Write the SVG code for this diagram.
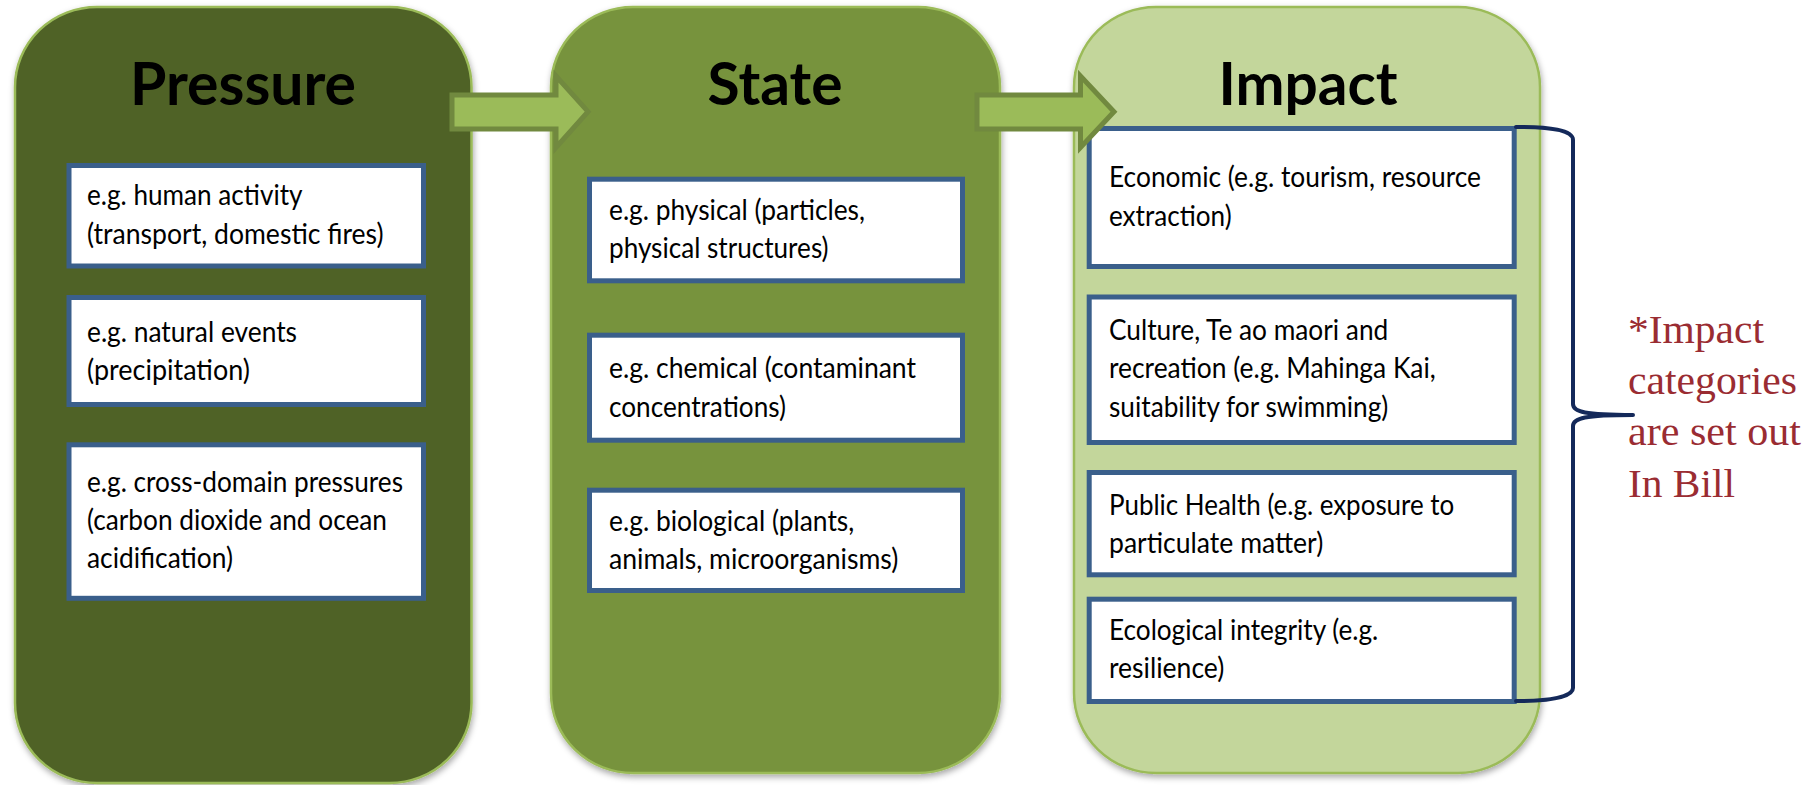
<svg xmlns="http://www.w3.org/2000/svg" width="1805" height="785" viewBox="0 0 1805 785">
<defs>
<filter id="sh" x="-5%" y="-5%" width="110%" height="110%">
<feDropShadow dx="1" dy="3" stdDeviation="3" flood-color="#000" flood-opacity="0.35"/>
</filter>
<style>
.panel{stroke:#9bbb59;stroke-width:2.5;filter:url(#sh)}
.p1{fill:#4f6228}
.p2{fill:#77933c}
.p3{fill:#c3d69b}
.box{fill:#fff;stroke:#3a5f8b;stroke-width:5}
.title{font-family:Lato,"Liberation Sans",sans-serif;font-weight:bold;font-size:60px;fill:#000;text-anchor:middle}
.t{font-family:Lato,"Liberation Sans",sans-serif;font-size:29.5px;fill:#000}
.arrow{fill:#9bbb59;stroke:#71893f;stroke-width:5;stroke-linejoin:miter}
.brace{fill:none;stroke:#14295a;stroke-width:4;stroke-linecap:round;stroke-linejoin:round}
.note{font-family:"Liberation Serif","Times New Roman",serif;font-size:41px;fill:#9a2c32}
</style>
</defs>
<rect width="1805" height="785" fill="#fff"/>

<g id="pressure">
<rect class="panel p1" x="15" y="7" width="456.5" height="776" rx="82" ry="80"/>
<text class="title" x="243" y="105" textLength="226" lengthAdjust="spacingAndGlyphs">Pressure</text>
<g id="pressure-1">
<rect class="box" x="69" y="165.5" width="354.5" height="100.5"/>
<text class="t" x="87" y="205" textLength="215.5" lengthAdjust="spacingAndGlyphs">e.g. human activity</text>
<text class="t" x="87" y="243.5" textLength="296.6" lengthAdjust="spacingAndGlyphs">(transport, domestic fires)</text>
</g>
<g id="pressure-2">
<rect class="box" x="69" y="297.5" width="354.5" height="107"/>
<text class="t" x="87" y="341.7" textLength="210" lengthAdjust="spacingAndGlyphs">e.g. natural events</text>
<text class="t" x="87" y="380" textLength="163" lengthAdjust="spacingAndGlyphs">(precipitation)</text>
</g>
<g id="pressure-3">
<rect class="box" x="69" y="444.8" width="354.5" height="153.5"/>
<text class="t" x="87" y="491.7" textLength="316" lengthAdjust="spacingAndGlyphs">e.g. cross-domain pressures</text>
<text class="t" x="87" y="530.3" textLength="300" lengthAdjust="spacingAndGlyphs">(carbon dioxide and ocean</text>
<text class="t" x="87" y="568.3" textLength="146" lengthAdjust="spacingAndGlyphs">acidification)</text>
</g>
</g>

<g id="state">
<rect class="panel p2" x="551" y="7" width="449" height="766" rx="82" ry="80"/>
<text class="title" x="775" y="105" textLength="135" lengthAdjust="spacingAndGlyphs">State</text>
<g id="state-1">
<rect class="box" x="589.5" y="179.2" width="373" height="101.6"/>
<text class="t" x="609" y="220" textLength="256" lengthAdjust="spacingAndGlyphs">e.g. physical (particles,</text>
<text class="t" x="609" y="258.3" textLength="219.6" lengthAdjust="spacingAndGlyphs">physical structures)</text>
</g>
<g id="state-2">
<rect class="box" x="589.5" y="335.2" width="373" height="105"/>
<text class="t" x="609" y="378" textLength="307" lengthAdjust="spacingAndGlyphs">e.g. chemical (contaminant</text>
<text class="t" x="609" y="416.7" textLength="177" lengthAdjust="spacingAndGlyphs">concentrations)</text>
</g>
<g id="state-3">
<rect class="box" x="589.5" y="490.2" width="373" height="100.3"/>
<text class="t" x="609" y="530.7" textLength="245.3" lengthAdjust="spacingAndGlyphs">e.g. biological (plants,</text>
<text class="t" x="609" y="569.3" textLength="289.3" lengthAdjust="spacingAndGlyphs">animals, microorganisms)</text>
</g>
</g>

<g id="impact">
<rect class="panel p3" x="1074" y="7" width="466" height="766" rx="82" ry="80"/>
<text class="title" x="1308" y="105" textLength="179" lengthAdjust="spacingAndGlyphs">Impact</text>
<g id="impact-1">
<rect class="box" x="1089.2" y="128.5" width="425" height="138"/>
<text class="t" x="1109" y="187" textLength="372" lengthAdjust="spacingAndGlyphs">Economic (e.g. tourism, resource</text>
<text class="t" x="1109" y="225.5" textLength="122.6" lengthAdjust="spacingAndGlyphs">extraction)</text>
</g>
<g id="impact-2">
<rect class="box" x="1089.2" y="297" width="425" height="145.5"/>
<text class="t" x="1109" y="340" textLength="279.3" lengthAdjust="spacingAndGlyphs">Culture, Te ao maori and</text>
<text class="t" x="1109" y="378.3" textLength="326.8" lengthAdjust="spacingAndGlyphs">recreation (e.g. Mahinga Kai,</text>
<text class="t" x="1109" y="416.8" textLength="279.3" lengthAdjust="spacingAndGlyphs">suitability for swimming)</text>
</g>
<g id="impact-3">
<rect class="box" x="1089.2" y="472.5" width="425" height="102.3"/>
<text class="t" x="1109" y="515" textLength="345.3" lengthAdjust="spacingAndGlyphs">Public Health (e.g. exposure to</text>
<text class="t" x="1109" y="553.3" textLength="214.3" lengthAdjust="spacingAndGlyphs">particulate matter)</text>
</g>
<g id="impact-4">
<rect class="box" x="1089.2" y="599.2" width="425" height="102.3"/>
<text class="t" x="1109" y="640" textLength="269.3" lengthAdjust="spacingAndGlyphs">Ecological integrity (e.g.</text>
<text class="t" x="1109" y="678.3" textLength="115.3" lengthAdjust="spacingAndGlyphs">resilience)</text>
</g>
</g>

<g id="connectors">
<path class="arrow" d="M452,95 L556,95 L556,76 L588,111.7 L556,147.5 L556,129 L452,129 Z"/>
<path class="arrow" d="M977,95 L1080.5,95 L1080.5,76 L1114,111.7 L1080.5,147.5 L1080.5,129 L977,129 Z"/>
</g>

<g id="brace">
<path class="brace" d="M1516,127 C1550,127 1573,130 1573,140 L1573,404 C1573,412 1585,415 1633,415 C1585,415 1573,418 1573,426 L1573,688 C1573,697 1550,701 1516,701"/>
</g>

<g id="note">
<text class="note" x="1628" y="343" textLength="136" lengthAdjust="spacingAndGlyphs">*Impact</text>
<text class="note" x="1628" y="394" textLength="169" lengthAdjust="spacingAndGlyphs">categories</text>
<text class="note" x="1628" y="445" textLength="173" lengthAdjust="spacingAndGlyphs">are set out</text>
<text class="note" x="1628" y="497" textLength="107" lengthAdjust="spacingAndGlyphs">In Bill</text>
</g>
</svg>
